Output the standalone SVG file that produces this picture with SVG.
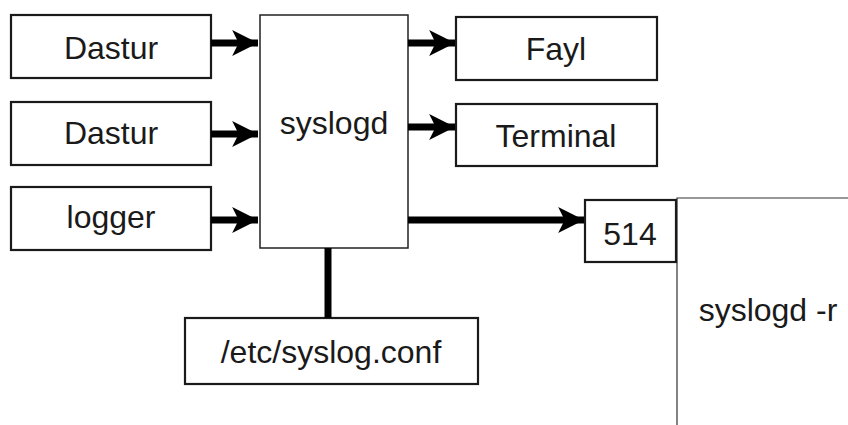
<svg xmlns="http://www.w3.org/2000/svg" width="848" height="425" viewBox="0 0 848 425">
<defs>
<style>
.box{fill:#fff;stroke:#1a1a1a;stroke-width:2.2}
.thin{fill:#fff;stroke:#333;stroke-width:1.2}
.t{font-family:"Liberation Sans",Arial,sans-serif;font-size:32px;fill:#1a1a1a;text-anchor:middle}
.c{stroke:#000;stroke-width:7;fill:none}
</style>
<marker id="ah" markerUnits="userSpaceOnUse" markerWidth="28" markerHeight="28" viewBox="0 -13 26 26" refX="24" refY="0" orient="auto">
<path d="M0,-12 L24,0 L0,12 L6,0 z" fill="#000"/>
</marker>
</defs>
<rect width="848" height="425" fill="#fff"/>
<g id="n-syslogd-r">
<path d="M677,425 V198 H848" class="thin" fill="none"/>
<text class="t" x="768" y="321">syslogd -r</text>
</g>
<g id="n-dastur1"><rect class="box" x="11" y="15" width="200" height="63"/><text class="t" x="111" y="59">Dastur</text></g>
<g id="n-dastur2"><rect class="box" x="11" y="102" width="200" height="63"/><text class="t" x="111" y="144">Dastur</text></g>
<g id="n-logger"><rect class="box" x="11" y="187" width="200" height="63"/><text class="t" x="111" y="228">logger</text></g>
<g id="n-syslogd"><rect class="thin" x="260" y="15" width="148" height="233" style="stroke:#222;stroke-width:1.5"/><text class="t" x="334" y="134">syslogd</text></g>
<g id="n-fayl"><rect class="box" x="456" y="17" width="201" height="63"/><text class="t" x="556" y="60">Fayl</text></g>
<g id="n-terminal"><rect class="box" x="456" y="104" width="201" height="62"/><text class="t" x="556" y="147">Terminal</text></g>
<g id="n-514"><rect class="box" x="585" y="200" width="91" height="62"/><text class="t" x="630" y="245">514</text></g>
<g id="n-conf"><rect class="box" x="185" y="318" width="293" height="66"/><text class="t" x="331" y="363">/etc/syslog.conf</text></g>
<g id="connectors">
<line class="c" x1="211" y1="43" x2="258" y2="43" marker-end="url(#ah)"/>
<line class="c" x1="211" y1="134" x2="258" y2="134" marker-end="url(#ah)"/>
<line class="c" x1="211" y1="220" x2="258" y2="220" marker-end="url(#ah)"/>
<line class="c" x1="408" y1="43" x2="455" y2="43" marker-end="url(#ah)"/>
<line class="c" x1="408" y1="127" x2="455" y2="127" marker-end="url(#ah)"/>
<line class="c" x1="408" y1="220" x2="584" y2="220" marker-end="url(#ah)"/>
<line class="c" x1="328" y1="248" x2="328" y2="318"/>
</g>
</svg>
